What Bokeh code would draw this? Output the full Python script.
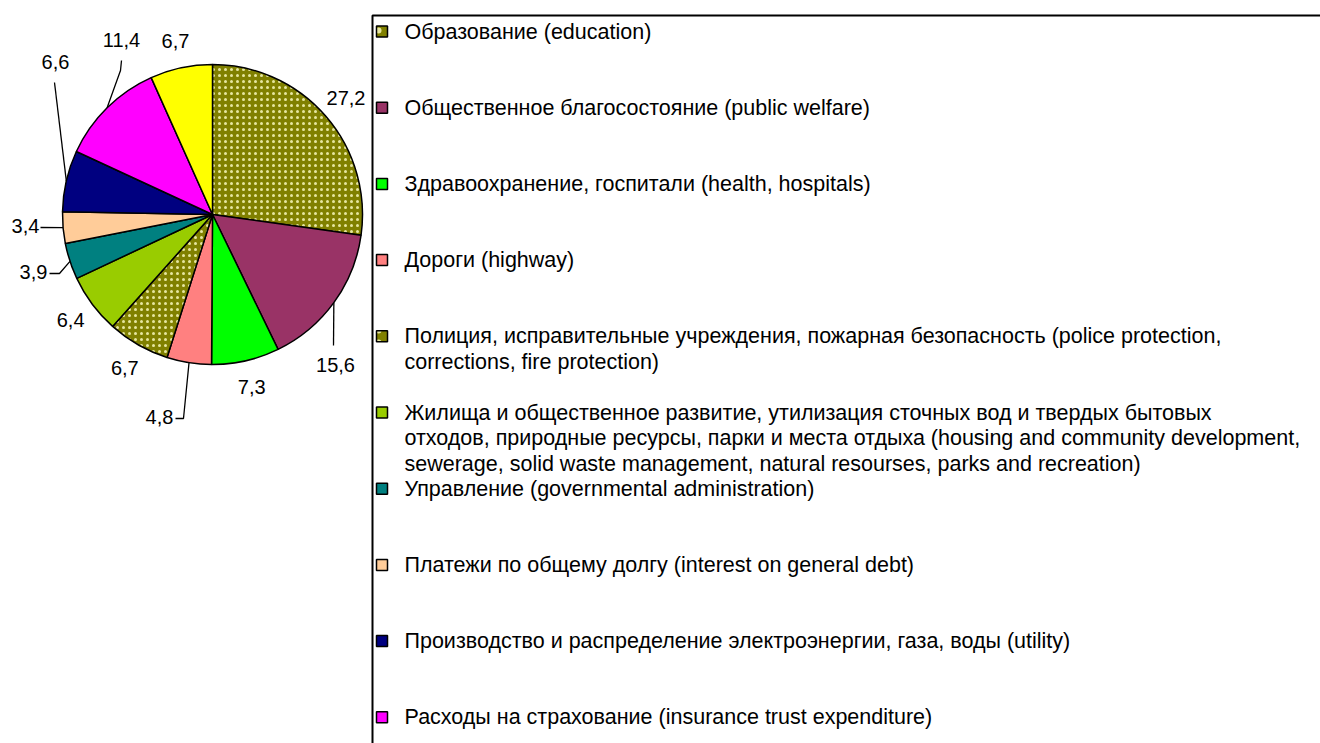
import math
from bokeh.plotting import figure
from bokeh.models import Range1d
from bokeh.embed import file_html
from bokeh.resources import INLINE
from bokeh.core.properties import value

# ---------------- data ----------------
values = [27.2, 15.6, 7.3, 4.8, 6.7, 6.4, 3.9, 3.4, 6.6, 11.4, 6.7]
value_labels = ["27,2", "15,6", "7,3", "4,8", "6,7", "6,4", "3,9", "3,4", "6,6", "11,4", "6,7"]
legend_categories = [
    "Образование (education)",
    "Общественное благосостояние (public welfare)",
    "Здравоохранение, госпитали (health, hospitals)",
    "Дороги (highway)",
    "Полиция, исправительные учреждения, пожарная безопасность (police protection,\ncorrections, fire protection)",
    "Жилища и общественное развитие, утилизация сточных вод и твердых бытовых\nотходов, природные ресурсы, парки и места отдыха (housing and community development,\nsewerage, solid waste management, natural resourses, parks and recreation)",
    "Управление (governmental administration)",
    "Платежи по общему долгу (interest on general debt)",
    "Производство и распределение электроэнергии, газа, воды (utility)",
    "Расходы на страхование (insurance trust expenditure)",
]

# ---------------- style / layout ----------------
colors = ["#808000", "#993366", "#00FF00", "#FF8080", "#808000", "#99CC00",
          "#008080", "#FFCC99", "#000080", "#FF00FF", "#FFFF00"]
textured = [True, False, False, False, True, False, False, False, False, False, False]
FONT = value("Liberation Sans")
W, H = 1320, 743
TOPY = 743


def Y(sy):  # picture pixel row -> data y
    return TOPY - sy


CX, CY, R = 212, Y(214), 150
LABEL_R = 177
# leader-line labels: index -> (label centre, intermediate points) in picture pixels
leaders = {
    1: ((335, 364), [(333, 345)]),
    3: ((159, 416), [(183, 418), (175, 418)]),
    6: ((33, 271), [(59, 273), (49, 273)]),
    7: ((25, 225), [(40, 227)]),
    8: ((55, 61), [(54, 82)]),
    9: ((121, 39), [(120, 70), (121, 60)]),
}

p = figure(width=W, height=H, output_backend="svg", toolbar_location=None,
           x_range=Range1d(0, W), y_range=Range1d(TOPY - H, TOPY),
           min_border=0, outline_line_color=None)
p.axis.visible = False
p.xgrid.visible = False
p.ygrid.visible = False
p.background_fill_color = "white"
p.border_fill_color = "white"

total = sum(values)
cum = 0.0
mids = []
for i, v in enumerate(values):
    a0 = math.pi / 2 - 2 * math.pi * cum / total
    cum += v
    a1 = math.pi / 2 - 2 * math.pi * cum / total
    mids.append((a0 + a1) / 2)
    kw = {}
    if textured[i]:
        kw = dict(hatch_pattern=".", hatch_color="#E6E6A0", hatch_scale=6, hatch_weight=1.5)
    p.wedge(x=[CX], y=[CY], radius=R, start_angle=a0, end_angle=a1, direction="clock",
            fill_color=colors[i], line_color="black", line_width=1.5, **kw)

# value labels
for i, lab in enumerate(value_labels):
    th = mids[i]
    if i in leaders:
        (lx, ly), pts = leaders[i]
        ex, ey = CX + R * math.cos(th), CY + R * math.sin(th)
        xs = [ex] + [q[0] for q in pts]
        ys = [ey] + [Y(q[1]) for q in pts]
        p.line(xs, ys, line_color="black", line_width=1.3)
        tx, ty = lx, Y(ly)
    else:
        tx, ty = CX + LABEL_R * math.cos(th), CY + LABEL_R * math.sin(th)
    p.text(x=[tx], y=[ty], text=[lab], text_font=FONT, text_font_size="20px",
           text_align="center", text_baseline="middle", text_color="black")

# legend box
LEG_L, LEG_T = 372, 15
p.quad(left=[LEG_L], right=[LEG_L + 1200], top=[Y(LEG_T)], bottom=[Y(LEG_T + 1000)],
       fill_color="white", line_color="black", line_width=2)

ITEM0, STEP, LINE = 31, 76.2, 25.5
MX, TX = 381.5, 404
for i, cat in enumerate(legend_categories):
    sy = ITEM0 + i * STEP
    kw = {}
    if textured[i]:
        kw = dict(hatch_pattern=".", hatch_color="#E6E6A0", hatch_scale=12, hatch_weight=2)
    p.rect(x=[MX], y=[Y(sy)], width=11, height=11, fill_color=colors[i],
           line_color="black", line_width=1.5, **kw)
    for k, line in enumerate(cat.split("\n")):
        p.text(x=[TX], y=[Y(sy + k * LINE)], text=[line], text_font=FONT,
               text_font_size="21.5px", text_align="left", text_baseline="middle",
               text_color="black")

open("out.html", "w").write(file_html(p, INLINE))
